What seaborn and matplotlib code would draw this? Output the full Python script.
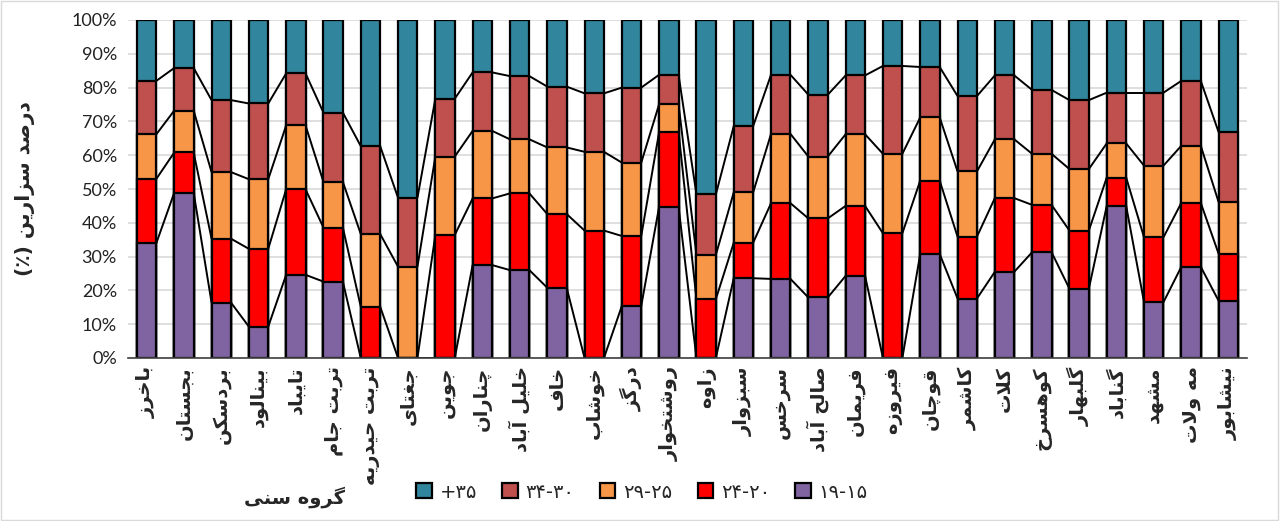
import numpy as np
import pandas as pd
import seaborn as sns
import matplotlib.pyplot as plt
from matplotlib.patches import Patch, Rectangle

# city names (logical order, Persian)
cities = ["باخرز", "بجستان", "بردسکن", "بینالود", "تایباد", "تربت جام", "تربت حیدریه",
          "جغتای", "جوین", "چناران", "خلیل آباد", "خاف", "خوشاب", "درگز", "روشتخوار",
          "زاوه", "سبزوار", "سرخس", "صالح آباد", "فریمان", "فیروزه", "قوچان", "کاشمر",
          "کلات", "کوهسرخ", "گلبهار", "گناباد", "مشهد", "مه ولات", "نیشابور"]

# share of caesarean births per age group (%)
age_15_19 = [34.0, 48.9, 16.4, 9.3, 24.6, 22.6, 0, 0, 0, 27.5, 26.0, 20.8, 0, 15.4, 44.8,
             0, 23.6, 23.4, 17.9, 24.3, 0, 30.8, 17.6, 25.5, 31.3, 20.5, 45.0, 16.5, 27.0, 16.9]
age_20_24 = [19.0, 11.9, 18.9, 23.0, 25.3, 16.0, 15.2, 0, 36.4, 19.7, 22.7, 21.8, 37.7, 20.7, 22.1,
             17.4, 10.5, 22.4, 23.4, 20.7, 36.9, 21.7, 18.3, 21.8, 14.0, 17.2, 8.4, 19.2, 18.9, 13.9]
age_25_29 = [13.2, 12.4, 19.7, 20.6, 18.9, 13.5, 21.5, 27.0, 23.2, 20.0, 16.0, 19.7, 23.3, 21.7, 8.2,
             13.1, 14.9, 20.5, 18.3, 21.2, 23.5, 18.7, 19.3, 17.4, 15.1, 18.2, 10.1, 21.2, 16.9, 15.3]
age_30_34 = [15.8, 12.6, 21.3, 22.4, 15.4, 20.5, 26.0, 20.4, 17.1, 17.3, 18.7, 18.0, 17.3, 22.2, 8.7,
             17.9, 19.6, 17.5, 18.3, 17.4, 26.0, 14.9, 22.3, 18.9, 18.9, 20.4, 15.0, 21.6, 19.2, 20.7]
age_35_plus = [18.0, 14.2, 23.7, 24.7, 15.8, 27.4, 37.3, 52.6, 23.3, 15.5, 16.6, 19.7, 21.7, 20.0, 16.2,
               51.6, 31.4, 16.2, 22.1, 16.4, 13.6, 13.9, 22.5, 16.4, 20.7, 23.7, 21.5, 21.5, 18.0, 33.2]

# legend labels as displayed
legend_labels = ["+۳۵", "۳۴-۳۰", "۲۹-۲۵", "۲۴-۲۰", "۱۹-۱۵"]
colors = ["#31859C", "#C0504D", "#F79646", "#FF0000", "#8064A2"]

y_title = "درصد سزارین (٪)"
legend_title = "گروه سنی"

# simple Persian shaping (presentation forms) + reversal for display
FORMS = {
    'ا': ('\uFE8D', '\uFE8E', None, None), 'آ': ('\uFE81', '\uFE82', None, None),
    'ب': ('\uFE8F', '\uFE90', '\uFE91', '\uFE92'), 'ت': ('\uFE95', '\uFE96', '\uFE97', '\uFE98'),
    'ج': ('\uFE9D', '\uFE9E', '\uFE9F', '\uFEA0'), 'چ': ('\uFB7A', '\uFB7B', '\uFB7C', '\uFB7D'),
    'ح': ('\uFEA1', '\uFEA2', '\uFEA3', '\uFEA4'), 'خ': ('\uFEA5', '\uFEA6', '\uFEA7', '\uFEA8'),
    'د': ('\uFEA9', '\uFEAA', None, None), 'ر': ('\uFEAD', '\uFEAE', None, None),
    'ز': ('\uFEAF', '\uFEB0', None, None), 'س': ('\uFEB1', '\uFEB2', '\uFEB3', '\uFEB4'),
    'ش': ('\uFEB5', '\uFEB6', '\uFEB7', '\uFEB8'), 'ص': ('\uFEB9', '\uFEBA', '\uFEBB', '\uFEBC'),
    'غ': ('\uFECD', '\uFECE', '\uFECF', '\uFED0'), 'ف': ('\uFED1', '\uFED2', '\uFED3', '\uFED4'),
    'ق': ('\uFED5', '\uFED6', '\uFED7', '\uFED8'), 'ک': ('\uFB8E', '\uFB8F', '\uFB90', '\uFB91'),
    'گ': ('\uFB92', '\uFB93', '\uFB94', '\uFB95'), 'ل': ('\uFEDD', '\uFEDE', '\uFEDF', '\uFEE0'),
    'م': ('\uFEE1', '\uFEE2', '\uFEE3', '\uFEE4'), 'ن': ('\uFEE5', '\uFEE6', '\uFEE7', '\uFEE8'),
    'و': ('\uFEED', '\uFEEE', None, None), 'ه': ('\uFEE9', '\uFEEA', '\uFEEB', '\uFEEC'),
    'ی': ('\uFBFC', '\uFBFD', '\uFBFE', '\uFBFF'),
}
MIRROR = {'(': ')', ')': '('}


def shape(text):
    out = []
    i = 0
    n = len(text)
    while i < n:
        c = text[i]
        prev = text[i - 1] if i > 0 else ''
        nxt = text[i + 1] if i + 1 < n else ''
        if c not in FORMS:
            out.append(c)
            i += 1
            continue
        joins_prev = prev in FORMS and FORMS[prev][2] is not None
        if c == 'ل' and nxt in ('ا', 'آ'):
            if nxt == 'ا':
                out.append('\uFEFC' if joins_prev else '\uFEFB')
            else:
                out.append('\uFEF6' if joins_prev else '\uFEF5')
            i += 2
            continue
        joins_next = nxt in FORMS and FORMS[c][2] is not None
        iso, fin, ini, med = FORMS[c]
        if joins_prev and joins_next:
            out.append(med)
        elif joins_prev:
            out.append(fin)
        elif joins_next:
            out.append(ini)
        else:
            out.append(iso)
        i += 1
    return ''.join(MIRROR.get(ch, ch) for ch in reversed(out))


df = pd.DataFrame({"city": cities, "a": age_15_19, "b": age_20_24, "c": age_25_29,
                   "d": age_30_34, "e": age_35_plus})
# cumulative tops, 15-19 at the bottom
df["cum1"] = df["a"]
df["cum2"] = df["cum1"] + df["b"]
df["cum3"] = df["cum2"] + df["c"]
df["cum4"] = df["cum3"] + df["d"]
df["cum5"] = df["cum4"] + df["e"]
df["cum5"] = df["cum5"] / df["cum5"] * 100

sns.set_style("white")
plt.rcParams['font.family'] = ['DejaVu Sans']

fig = plt.figure(figsize=(12.8, 5.21), dpi=100)
ax = fig.add_axes([128 / 1280, 1 - 358 / 521, (1247 - 128) / 1280, (358 - 20) / 521])

bar_w = 0.52
cum_cols = ["cum5", "cum4", "cum3", "cum2", "cum1"]
for col, colr in zip(cum_cols, colors):
    sns.barplot(data=df, x="city", y=col, order=cities, color=colr, saturation=1,
                edgecolor="black", linewidth=1.6, width=bar_w, errorbar=None, ax=ax, zorder=3)

# series lines between neighbouring bars
for col in cum_cols[1:]:
    vals = df[col].values
    for i in range(len(vals) - 1):
        ax.plot([i + bar_w / 2, i + 1 - bar_w / 2], [vals[i], vals[i + 1]],
                color="black", lw=1.4, zorder=2, solid_capstyle="butt")

ax.set_xlim(-0.5, len(cities) - 0.5)
ax.set_ylim(0, 100)
ax.set_yticks(np.arange(0, 101, 10))
ax.set_yticklabels([f"{v}%" for v in range(0, 101, 10)], fontsize=13, family="Lato")
ax.yaxis.grid(True, color="#D9D9D9", lw=1.2, zorder=0)
ax.set_axisbelow(True)
ax.set_xticks(range(len(cities)))
ax.set_xticklabels([shape(c) for c in cities], rotation=90, fontsize=14,
                   fontweight="bold", va="top", ha="center")
ax.tick_params(axis="both", length=0, pad=6)
ax.tick_params(axis="y", pad=8, colors="#222222")
ax.set_xlabel("")
ax.set_ylabel(shape(y_title), fontsize=14.5, fontweight="bold", labelpad=26)

for s in ["top", "right", "left"]:
    ax.spines[s].set_visible(False)
ax.spines["bottom"].set_color("#404040")
ax.spines["bottom"].set_linewidth(1.2)
ax.spines["bottom"].set_zorder(5)

handles = [Patch(facecolor=c, edgecolor="black", linewidth=1.6) for c in colors]
fig.legend(handles, legend_labels, loc="center", ncol=5, frameon=False,
           bbox_to_anchor=(642 / 1280, 1 - 492 / 521), fontsize=14,
           handlelength=0.8, handleheight=0.8, handletextpad=0.4, columnspacing=1.3)
fig.text(295 / 1280, 1 - 497 / 521, shape(legend_title), fontsize=14, fontweight="bold",
         ha="center", va="center")

fig.patches.append(Rectangle((0.0005, 0.001), 0.998, 0.997, transform=fig.transFigure,
                             fill=False, edgecolor="#D9D9D9", lw=1))

fig.savefig("out.png", dpi=100)
